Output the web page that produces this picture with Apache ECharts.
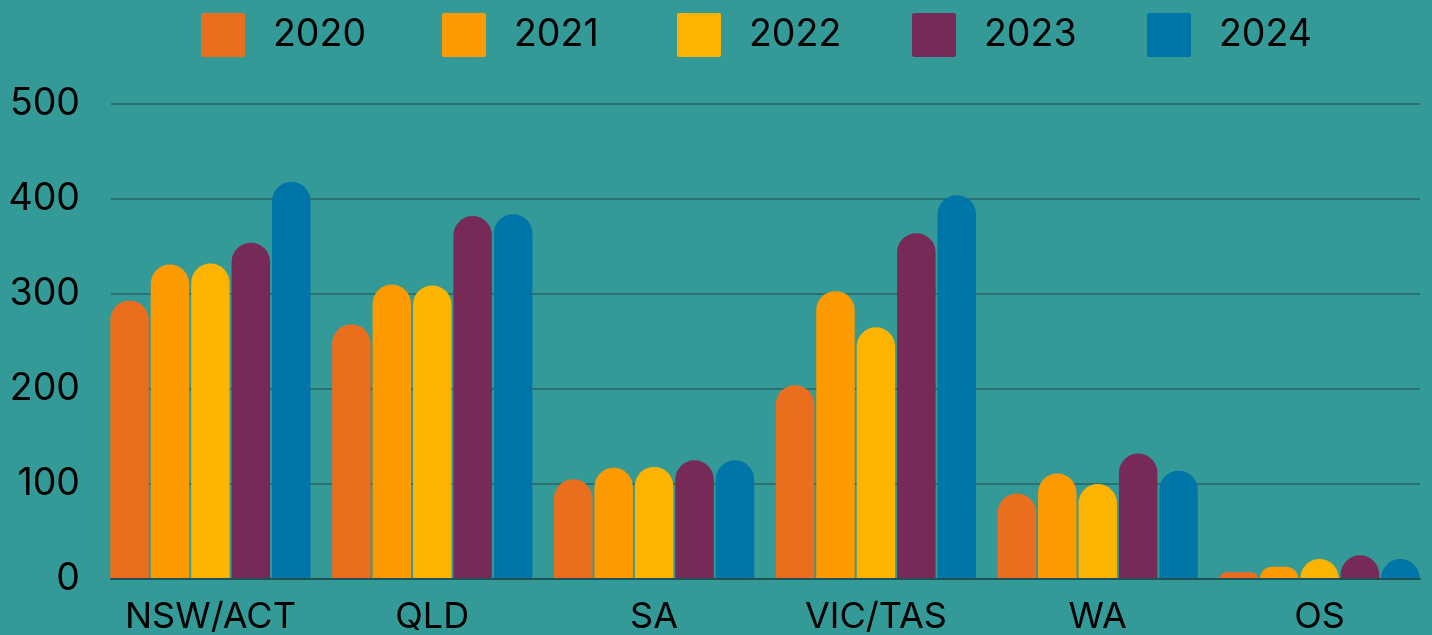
<!DOCTYPE html>
<html>
<head>
<meta charset="utf-8">
<script src="https://cdn.jsdelivr.net/npm/echarts@6/dist/echarts.min.js"></script>
<style>
html,body{margin:0;padding:0;background:#349a98;}
#c{width:1432px;height:635px;}
</style>
</head>
<body>
<div id="c"></div>
<script>
const categories = ['NSW/ACT','QLD','SA','VIC/TAS','WA','OS'];
const years = ['2020','2021','2022','2023','2024'];
const v2020 = [293, 268, 105, 204, 90, 7];
const v2021 = [331, 310, 117, 303, 111, 13];
const v2022 = [332, 309, 118, 265, 100, 21];
const v2023 = [354, 382, 125, 364, 132, 25];
const v2024 = [418, 384, 125, 404, 114, 21];
const yTicks = [0, 100, 200, 300, 400, 500];
const colors = ['#eb6e1f', '#fd9a00', '#fcb400', '#772a57', '#0075a8'];
const allValues = [v2020, v2021, v2022, v2023, v2024];

const font = 'Inter';
const legendLeft = [201, 442, 677, 912, 1147];
const chart = echarts.init(document.getElementById('c'));
chart.setOption({
  backgroundColor: '#349a98',
  animation: false,
  color: colors,
  legend: years.map((y, i) => ({
    top: 13,
    left: legendLeft[i],
    padding: 0,
    itemWidth: 44,
    itemHeight: 44,
    icon: 'path://M2,0 L42,0 Q44,0 44,2 L44,42 Q44,44 42,44 L2,44 Q0,44 0,42 L0,2 Q0,0 2,0 Z',
    textStyle: { fontFamily: font, fontSize: 37.5, color: '#000', padding: [0, 0, 0, 23] },
    data: [y]
  })),
  grid: [
    { left: 99.5, right: 1.5, top: 104, bottom: 56, outerBoundsMode: 'none', containLabel: false },
    { left: 111, right: 12, top: 104, bottom: 56, outerBoundsMode: 'none', containLabel: false }
  ],
  xAxis: [
    {
      type: 'category', gridIndex: 0, data: categories,
      axisTick: { show: false },
      axisLine: { show: false },
      axisLabel: { fontFamily: font, fontSize: 36, color: '#000', margin: 20, interval: 0 }
    },
    {
      type: 'category', gridIndex: 1, data: categories, z: 3,
      axisTick: { show: false },
      axisLabel: { show: false },
      axisLine: { show: true, lineStyle: { color: '#1e5255', width: 2 } }
    }
  ],
  yAxis: [
    {
      type: 'value', gridIndex: 0,
      min: yTicks[0], max: yTicks[yTicks.length - 1], interval: 100,
      axisLine: { show: false }, axisTick: { show: false },
      splitLine: { show: false },
      axisLabel: { fontFamily: font, fontSize: 37.5, color: '#000', margin: 19.5 }
    },
    {
      type: 'value', gridIndex: 1,
      min: yTicks[0], max: yTicks[yTicks.length - 1], interval: 100,
      axisLine: { show: false }, axisTick: { show: false },
      axisLabel: { show: false },
      splitLine: { lineStyle: { color: '#2a7172', width: 2 } }
    }
  ],
  series: years.map((y, i) => ({
    name: y,
    type: 'bar',
    xAxisIndex: 0,
    yAxisIndex: 0,
    z: 2,
    data: allValues[i],
    barWidth: 38.5,
    barGap: '5%',
    itemStyle: { color: colors[i], borderRadius: [20, 20, 0, 0] }
  }))
});
</script>
</body>
</html>
